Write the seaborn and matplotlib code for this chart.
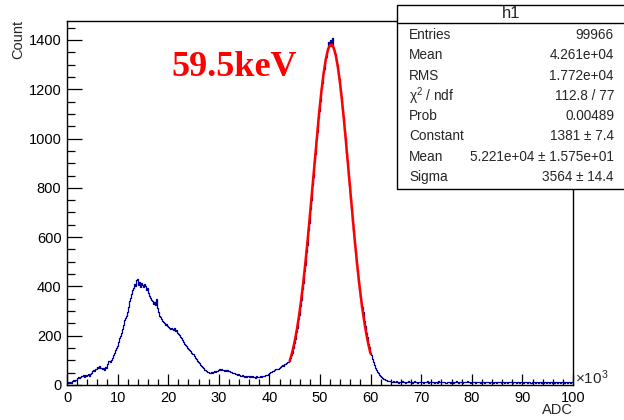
import numpy as np
import pandas as pd
import matplotlib
matplotlib.use('Agg')
import matplotlib.pyplot as plt
import seaborn as sns
from matplotlib.patches import Rectangle
from matplotlib.lines import Line2D
from matplotlib.ticker import MultipleLocator, FuncFormatter

# ==========================================
# data (bin width 200 ADC, 0 - 100000)
# ==========================================
BIN_WIDTH = 200
X_MIN, X_MAX = 0, 100000

counts_low = [  # 0 - 22k
    8, 11, 9, 13, 10, 15, 19, 16, 21, 20,
    27, 33, 29, 31, 35, 36, 40, 34, 39, 37,
    41, 45, 38, 44, 48, 55, 62, 58, 66, 63,
    74, 70, 76, 69, 71, 65, 70, 62, 74, 68,
    84, 96, 92, 101, 110, 122, 131, 143, 150, 158,
    176, 190, 198, 210, 226, 244, 262, 271, 282, 296,
    318, 340, 352, 371, 386, 392, 410, 402, 428, 432,
    405, 418, 398, 412, 406, 396, 410, 401, 385, 392,
    372, 360, 351, 346, 342, 330, 338, 325, 348, 312,
    296, 281, 276, 268, 260, 255, 250, 243, 246, 238,
    236, 231, 228, 233, 226, 222, 230, 218, 224, 212,
]
counts_valley = [  # 22k - 44k
    206, 202, 196, 190, 182, 176, 168, 164, 158, 151,
    146, 140, 136, 129, 124, 117, 110, 106, 98, 94,
    88, 82, 78, 72, 68, 62, 60, 57, 54, 52,
    50, 48, 51, 49, 53, 55, 52, 58, 56, 60,
    63, 61, 66, 59, 62, 58, 61, 55, 60, 57,
    56, 52, 54, 48, 50, 47, 44, 46, 42, 45,
    40, 38, 36, 39, 37, 34, 36, 33, 37, 35,
    32, 35, 33, 36, 31, 34, 30, 35, 32, 33,
    33, 36, 32, 35, 37, 38, 40, 42, 39, 44,
    47, 51, 53, 55, 58, 60, 63, 66, 64, 70,
    73, 76, 80, 78, 84, 86, 90, 94, 92, 99,
]
counts_peak = [  # 44k - 64k
    108, 121, 130, 152, 171, 186, 214, 231, 266, 284,
    322, 344, 389, 412, 461, 488, 541, 570, 628, 658,
    716, 749, 812, 843, 905, 936, 998, 1027, 1085, 1112,
    1152, 1205, 1224, 1271, 1283, 1325, 1330, 1368, 1392, 1384,
    1401, 1375, 1410, 1362, 1348, 1344, 1310, 1299, 1258, 1241,
    1193, 1170, 1116, 1089, 1031, 1001, 941, 908, 847, 812,
    754, 719, 661, 630, 574, 545, 493, 464, 417, 391,
    357, 316, 296, 259, 241, 209, 194, 168, 155, 131,
    121, 104, 92, 80, 71, 62, 54, 47, 41, 36,
    33, 30, 26, 24, 21, 20, 18, 16, 17, 15,
]
counts_tail = [  # 64k - 100k
    14, 12, 16, 11, 13, 15, 12, 10, 14, 13,
    11, 15, 12, 13, 10, 14, 12, 16, 11, 12,
    13, 10, 12, 15, 11, 13, 9, 14, 12, 11,
    12, 14, 10, 12, 13, 11, 15, 10, 12, 13,
    11, 12, 14, 9, 13, 12, 10, 15, 11, 12,
    13, 11, 12, 14, 10, 12, 13, 11, 9, 14,
    12, 10, 13, 11, 15, 12, 10, 12, 14, 11,
    10, 13, 12, 11, 12, 16, 11, 13, 10, 12,
    12, 11, 14, 10, 12, 13, 11, 12, 9, 13,
    11, 12, 10, 13, 12, 11, 14, 10, 12, 11,
    13, 10, 12, 11, 9, 12, 13, 11, 12, 10,
    11, 12, 10, 14, 11, 10, 12, 13, 11, 12,
    10, 13, 11, 12, 10, 12, 11, 9, 13, 11,
    12, 10, 11, 13, 12, 10, 11, 12, 10, 13,
    11, 12, 10, 11, 13, 10, 12, 11, 9, 12,
    10, 11, 13, 10, 12, 11, 10, 12, 11, 10,
    12, 10, 11, 12, 9, 11, 13, 10, 11, 12,
    11, 10, 12, 11, 10, 12, 11, 10, 12, 11,
]

# gaussian fit result (from the stats box)
FIT_CONST, FIT_MEAN, FIT_SIGMA = 1381.0, 5.221e4, 3564.0
FIT_RANGE = (44000, 60000)

STATS_LABELS = ['Entries', 'Mean', 'RMS', 'χ$^{2}$ / ndf', 'Prob',
                'Constant', 'Mean', 'Sigma']
STATS_VALUES = ['99966', '4.261e+04', '1.772e+04', '112.8 / 77', '0.00489',
                '1381 ± 7.4', '5.221e+04 ± 1.575e+01', '3564 ± 14.4']

HIST_COLOR = '#000099'
FIT_COLOR = '#ff0000'

# ==========================================
# style
# ==========================================
sns.set_theme(style='ticks')
plt.rcParams.update({
    'font.family': ['Liberation Sans', 'DejaVu Sans'],
    'mathtext.fontset': 'custom',
    'mathtext.rm': 'Liberation Sans',
    'mathtext.it': 'Liberation Sans:italic',
    'axes.linewidth': 1.0,
    'axes.edgecolor': 'black',
    'xtick.direction': 'in', 'ytick.direction': 'in',
    'xtick.color': 'black', 'ytick.color': 'black',
})

counts = np.array(counts_low + counts_valley + counts_peak + counts_tail, dtype=float)
centers = (np.arange(X_MIN, X_MAX, BIN_WIDTH) + BIN_WIDTH / 2) / 1000.0
df = pd.DataFrame({'adc': centers, 'count': counts})

fig = plt.figure(figsize=(6.24, 4.2), dpi=100)
ax = fig.add_axes([67 / 624, 1 - 385 / 420, 506 / 624, (385 - 21.5) / 420])

sns.histplot(data=df, x='adc', weights='count', binwidth=BIN_WIDTH / 1000.0,
             binrange=(X_MIN / 1000.0, X_MAX / 1000.0),
             element='step', fill=False, color=HIST_COLOR, linewidth=0.9, ax=ax)

xf = np.linspace(FIT_RANGE[0], FIT_RANGE[1], 400)
fit_df = pd.DataFrame({'adc': xf / 1000.0,
                       'fit': FIT_CONST * np.exp(-0.5 * ((xf - FIT_MEAN) / FIT_SIGMA) ** 2)})
sns.lineplot(data=fit_df, x='adc', y='fit', color=FIT_COLOR, linewidth=1.8, ax=ax)

ax.set_xlim(0, 100)
ax.set_ylim(0, 1475)
ax.xaxis.set_major_locator(MultipleLocator(10))
ax.xaxis.set_minor_locator(MultipleLocator(2))
ax.yaxis.set_major_locator(MultipleLocator(200))
ax.yaxis.set_minor_locator(MultipleLocator(50))
ax.xaxis.set_major_formatter(FuncFormatter(lambda v, p: f'{v:.0f}'))
ax.tick_params(axis='x', which='major', length=8, width=0.9, labelsize=10.5, pad=4)
ax.tick_params(axis='x', which='minor', length=4, width=0.9)
ax.tick_params(axis='y', which='major', length=11, width=0.9, labelsize=10.5, pad=4)
ax.tick_params(axis='y', which='minor', length=6, width=0.9)
ax.set_xlabel('')
ax.set_ylabel('')
for s in ax.spines.values():
    s.set_visible(True)
    s.set_color('black')

fig.text(18 / 624, 1 - 20 / 420, 'Count', rotation=90, ha='center', va='top', fontsize=10.5)
fig.text(573 / 624, 1 - 410 / 420, 'ADC', ha='right', va='center', fontsize=10.5)
fig.text(575 / 624, 1 - 378 / 420, r'$\times10^{3}$', ha='left', va='center', fontsize=11)

fig.text(234 / 624, 1 - 68 / 420, '59.5keV', color=FIT_COLOR, fontweight='bold',
         fontsize=26, family='Liberation Serif', ha='center', va='center')

# stats box
bx0, bx1, by0, by1 = 397, 626, 5, 189
fig.add_artist(Rectangle((bx0 / 624, 1 - by1 / 420), (bx1 - bx0) / 624, (by1 - by0) / 420,
                         transform=fig.transFigure, facecolor='white', edgecolor='black',
                         linewidth=1.0, zorder=5))
fig.add_artist(Line2D([bx0 / 624, bx1 / 624], [1 - 22.5 / 420, 1 - 22.5 / 420],
                      transform=fig.transFigure, color='black', linewidth=1.0, zorder=6))
fig.text((bx0 + bx1) / 2 / 624, 1 - 14 / 420, 'h1', ha='center', va='center',
         fontsize=12, zorder=7)
row_y = np.linspace(35, 177, len(STATS_LABELS))
for lab, val, yy in zip(STATS_LABELS, STATS_VALUES, row_y):
    fig.text(409 / 624, 1 - yy / 420, lab, ha='left', va='center', fontsize=9.8, zorder=7)
    fig.text(614 / 624, 1 - yy / 420, val, ha='right', va='center', fontsize=9.8, zorder=7)

fig.savefig('out.png', dpi=100)
